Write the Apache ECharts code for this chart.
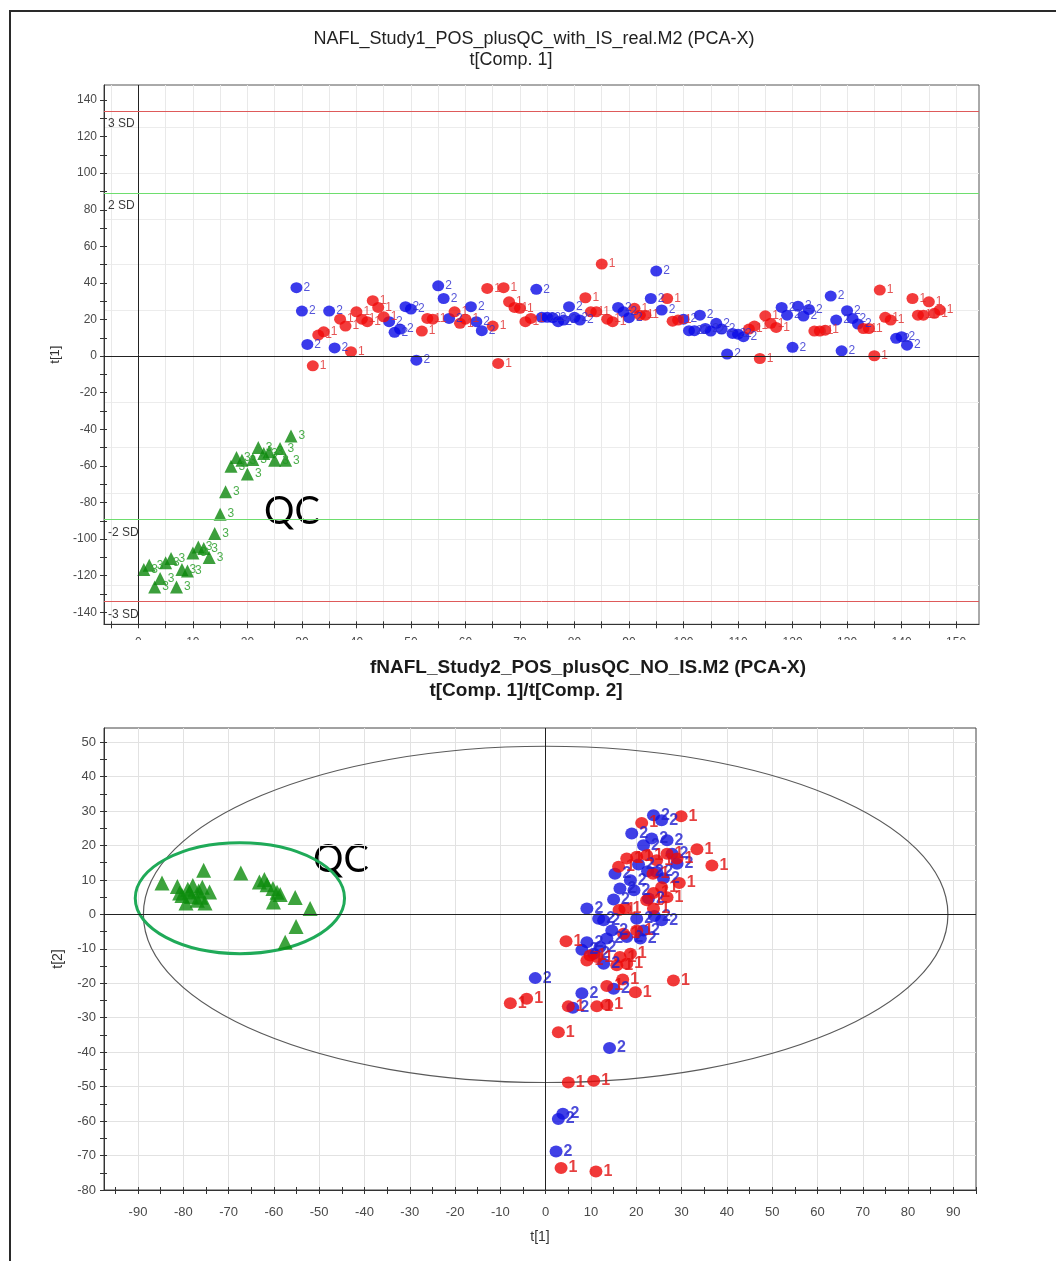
<!DOCTYPE html>
<html>
<head>
<meta charset="utf-8">
<script src="https://cdn.jsdelivr.net/npm/echarts@6/dist/echarts.min.js"></script>
<style>
html, body { margin: 0; padding: 0; background: #fff; }
#page { position: relative; width: 1056px; height: 1261px; overflow: hidden; background: #fff; }
#clip1 { position: absolute; left: 0; top: 0; width: 1056px; height: 640px; overflow: hidden; }
#c1 { width: 1056px; height: 700px; }
#c2 { position: absolute; left: 0; top: 640px; width: 1056px; height: 621px; }
#frame { position: absolute; left: 9px; top: 10px; width: 1200px; height: 1400px;
         border-left: 2px solid #2a2a2a; border-top: 2px solid #2a2a2a; pointer-events: none; }
</style>
</head>
<body>
<div id="page">
  <div id="clip1"><div id="c1"></div></div>
  <div id="c2"></div>
  <div id="frame"></div>
</div>
<script>
const FONT = '"Liberation Sans", Arial, sans-serif';

// ---- Study 1: t[1] score by observation number ----
const qcObs = [1, 2, 3, 4, 5, 6, 7, 8, 9, 10, 11, 12, 13, 14, 15, 16, 17, 18, 19, 20, 21, 22, 23, 24, 25, 26, 27, 28];
const qcScore = [-116.7, -114.3, -126.2, -121.6, -113, -110.6, -126.2, -116.7, -117.4, -107.6, -104.3, -105.2, -110.1, -97,
                 -86.4, -74.2, -60.2, -55.4, -56.9, -64.5, -56.5, -50, -53.2, -52.3, -56.9, -50.5, -56.9, -43.7];

const grp2Obs = [29, 30, 31, 35, 36, 46, 47, 48, 49, 50, 51, 55, 56, 57, 61, 62, 63, 73, 74, 75, 76, 77, 78, 79, 80, 81,
                 88, 89, 90, 94, 95, 96, 100, 101, 102, 103, 104, 105, 106, 107, 108, 109, 110, 111, 118, 119, 120, 121,
                 122, 123, 127, 128, 129, 130, 131, 132, 139, 140, 141];
const grp2Score = [37.4, 24.6, 6.4, 24.6, 4.5, 18.8, 13.0, 14.8, 27.0, 25.7, -2.2, 38.4, 31.5, 20.6, 27.0, 18.8, 13.9,
                   36.5, 21.2, 21.2, 21.0, 18.8, 19.7, 27.0, 21.2, 19.7, 26.6, 24.2, 21.0, 31.5, 46.5, 25.2, 20.2, 13.9,
                   13.9, 22.4, 15.1, 13.7, 17.9, 14.8, 1.1, 12.4, 12.0, 10.6, 26.6, 22.4, 4.8, 27.3, 21.9, 25.5, 32.8,
                   19.7, 2.9, 24.8, 20.6, 17.5, 9.7, 10.6, 6.0];

const grp1Obs = [32, 33, 34, 37, 38, 39, 40, 41, 42, 43, 44, 45, 52, 53, 54, 58, 59, 60, 64, 65, 66, 67, 68, 69, 70, 71,
                 72, 82, 83, 84, 85, 86, 87, 91, 92, 93, 97, 98, 99, 112, 113, 114, 115, 116, 117, 124, 125, 126, 133,
                 134, 135, 136, 137, 138, 142, 143, 144, 145, 146, 147];
const grp1Score = [-5.3, 11.5, 13.3, 20.2, 16.4, 2.4, 24.2, 20.2, 18.8, 30.3, 26.6, 21.5, 13.7, 20.6, 20.2, 24.2, 17.9,
                   20.2, 37.0, 16.4, -4.0, 37.4, 29.7, 26.6, 26.1, 18.8, 20.6, 31.9, 24.2, 24.2, 50.3, 20.2, 18.8, 26.1,
                   22.4, 22.4, 31.5, 19.1, 19.7, 14.8, 16.4, -1.3, 22.0, 17.9, 15.7, 13.7, 13.7, 14.2, 15.1, 15.1, 0.2,
                   36.1, 21.2, 19.7, 31.5, 22.4, 22.4, 29.7, 23.4, 25.2];

const sdLimits = [89.3, 134];   // 2 SD and 3 SD of t[1]

const obsRange = [-6.3, 154.2];
const obsTicks = [-5, 0, 5, 10, 15, 20, 25, 30, 35, 40, 45, 50, 55, 60, 65, 70, 75, 80, 85, 90, 95, 100, 105, 110,
                  115, 120, 125, 130, 135, 140, 145, 150];
const obsLabels = [0, 10, 20, 30, 40, 50, 60, 70, 80, 90, 100, 110, 120, 130, 140, 150];
const t1Range = [-146.6, 148.2];
const t1Ticks = [-140, -130, -120, -110, -100, -90, -80, -70, -60, -50, -40, -30, -20, -10, 0, 10, 20, 30, 40, 50,
                 60, 70, 80, 90, 100, 110, 120, 130, 140];
const t1Labels = [-140, -120, -100, -80, -60, -40, -20, 0, 20, 40, 60, 80, 100, 120, 140];
const t1Grid = [-125, -100, -75, -50, -25, 0, 25, 50, 75, 100, 125];

// ---- Study 2: t[1] / t[2] score plot ----
const qc2T1 = [-84.7, -81.3, -80.8, -80.3, -79.4, -79.0, -78.6, -78.2, -77.9, -76.9, -76.6, -76.1, -75.8, -75.5, -75.2,
               -74.2, -67.3, -63.2, -62.1, -61.5, -60.2, -60.1, -59.3, -58.6, -55.3, -52.0, -55.1, -57.5];
const qc2T2 = [9.1, 8.1, 6.2, 5.5, 3.3, 7.3, 6.5, 5.2, 8.4, 4.1, 6.8, 5.0, 7.9, 12.8, 3.3,
               6.5, 12.0, 9.4, 10.1, 8.6, 7.5, 3.6, 6.4, 5.8, 4.9, 1.7, -3.5, -8.1];

const grp2T1 = [23.8, 25.6, 19.0, 21.6, 23.4, 26.8, 27.9, 29.0, 24.5, 15.3, 16.4, 18.7, 15.0, 22.7, 9.1, 11.7, 12.8,
                20.1, 25.6, 21.6, 14.6, 17.9, 9.1, 8.0, 12.0, 10.6, 12.8, -2.3, 8.0, 15.0, 6.0, 14.1, 3.8, 2.8, 2.3,
                20.5, 22.5, 26.0, 19.5, 24.0, 13.5, 20.9];
const grp2T2 = [28.8, 27.3, 23.5, 20.1, 22.0, 21.5, 17.6, 14.7, 12.3, 11.8, 7.5, 9.9, 4.3, 4.6, 1.7, -1.3, -1.7,
                -1.3, -1.7, -4.7, -4.7, -6.6, -8.1, -10.3, -9.5, -11.4, -14.3, -18.5, -22.9, -21.6, -27.1, -38.8,
                -57.9, -59.4, -68.8, 14.5, 12.5, 10.5, 7.0, -0.5, -7.0, -7.0];

const grp1T1 = [29.9, 21.2, 33.4, 36.7, 29.5, 17.5, 23.8, 4.5, 28.2, 17.0, 19.8, 13.5, 16.1, 17.9, 20.1, 22.3, 24.5,
                26.8, 29.0, 23.7, 25.6, 22.3, 23.8, 26.8, 9.8, 11.3, 9.1, 16.4, 18.7, 17.9, 15.7, 20.1, 17.2, -7.8,
                -4.2, 5.0, 11.3, 13.5, 2.8, 5.0, 10.6, 3.4, 11.1, 16.2];
const grp1T2 = [28.5, 26.5, 18.9, 14.2, 9.1, 1.8, 1.7, -7.8, -19.2, -18.9, -22.6, -20.8, 13.8, 16.2, 16.7, 17.2, 15.7,
                17.6, 16.2, 11.8, 7.9, 4.1, 6.2, 5.0, -11.9, -12.4, -13.4, -12.4, -11.4, -14.3, -14.8, -4.7, -5.6,
                -25.8, -24.5, -26.7, -26.7, -26.2, -34.2, -48.8, -48.3, -73.6, -74.6, 1.3];

const hotellingEllipse = [0, 0, 88.8, 48.8];     // centre t[1], t[2], semi-axes
const qcEllipse = [-67.5, 4.7, 23.1, 16.1];

const pcT1Range = [-97.5, 95.0];
const pcT1Ticks = [-95, -90, -85, -80, -75, -70, -65, -60, -55, -50, -45, -40, -35, -30, -25, -20, -15, -10, -5, 0,
                   5, 10, 15, 20, 25, 30, 35, 40, 45, 50, 55, 60, 65, 70, 75, 80, 85, 90, 95];
const pcT1Labels = [-90, -80, -70, -60, -50, -40, -30, -20, -10, 0, 10, 20, 30, 40, 50, 60, 70, 80, 90];
const pcT2Range = [-80, 54.1];
const pcT2Ticks = [-80, -75, -70, -65, -60, -55, -50, -45, -40, -35, -30, -25, -20, -15, -10, -5, 0, 5, 10, 15, 20,
                   25, 30, 35, 40, 45, 50];
const pcT2Labels = [-80, -70, -60, -50, -40, -30, -20, -10, 0, 10, 20, 30, 40, 50];

function zip(a, b) { return a.map((v, i) => [v, b[i]]); }

// three stacked axes per dimension: labels + outer ticks, inner ticks, grid lines
function axisStack(dim, range, ticks, labels, grid, labelStyle, nameOpt, gridColor) {
  const base = { type: 'value', min: range[0], max: range[1], position: dim === 'x' ? 'bottom' : 'left' };
  const tickLine = { color: '#333', width: 1 };
  return [
    Object.assign({}, base, {
      axisLine: { show: true, onZero: false, lineStyle: { color: '#333', width: 1 } },
      axisTick: { show: true, customValues: ticks, length: 4, lineStyle: tickLine },
      axisLabel: Object.assign({ customValues: labels, fontFamily: FONT, color: '#4a4a4a' }, labelStyle),
      splitLine: { show: false }
    }, nameOpt || {}),
    Object.assign({}, base, {
      axisLine: { show: false, onZero: false },
      axisTick: { show: true, inside: true, customValues: ticks, length: 3, lineStyle: tickLine },
      axisLabel: { show: false },
      splitLine: { show: false }
    }),
    Object.assign({}, base, {
      axisLine: { show: false, onZero: false },
      axisTick: { show: false, customValues: grid },
      axisLabel: { show: false },
      splitLine: { show: true, lineStyle: { color: gridColor, width: 1 } }
    })
  ];
}

function textEl(x, y, text, size, weight, family, color) {
  return { type: 'text', x: x, y: y, silent: true,
           style: { text: text, fontSize: size, fontWeight: weight, fontFamily: family, fill: color,
                    align: 'center', verticalAlign: 'middle' } };
}

function scoreLabel(txt, color, size, weight) {
  return { show: true, position: 'right', distance: 1, formatter: txt, color: color,
           fontSize: size, fontWeight: weight, fontFamily: FONT };
}

// ---------- chart 1 ----------
const chart1 = echarts.init(document.getElementById('c1'), null, { renderer: 'canvas' });
const sdLabel = (t) => ({ show: true, formatter: t, position: 'insideStartBottom', distance: [4, 7],
                          color: '#3a3a3a', fontSize: 12, fontFamily: FONT });
chart1.setOption({
  animation: false,
  backgroundColor: '#fff',
  graphic: [
    textEl(534, 39, 'NAFL_Study1_POS_plusQC_with_IS_real.M2 (PCA-X)', 18, 'normal', FONT, '#222'),
    textEl(511, 60, 't[Comp. 1]', 18, 'normal', FONT, '#222'),
    textEl(292, 512, 'QC', 38, 'normal', 'Lato', '#000')
  ],
  grid: { left: 104, top: 85, width: 875, height: 539.3, show: true, borderColor: '#555', borderWidth: 1,
          backgroundColor: '#fff', containLabel: false },
  xAxis: axisStack('x', obsRange, obsTicks, obsLabels, obsTicks, { fontSize: 12, margin: 12 }, null, '#e9e9e9'),
  yAxis: axisStack('y', t1Range, t1Ticks, t1Labels, t1Grid, { fontSize: 12, margin: 7 },
                   { name: 't[1]', nameLocation: 'middle', nameGap: 40,
                     nameTextStyle: { fontFamily: FONT, fontSize: 13, color: '#333' } }, '#ececec'),
  series: [
    {
      type: 'scatter', name: 'QC', xAxisIndex: 0, yAxisIndex: 0, silent: true,
      symbol: 'triangle', symbolSize: 13, itemStyle: { color: '#0b870b' },
      label: scoreLabel('3', '#1f9a1f', 12, 'normal'),
      data: zip(qcObs, qcScore),
      markLine: {
        silent: true, symbol: 'none', animation: false, label: { show: false },
        data: [
          { yAxis: 0, lineStyle: { color: '#222', width: 1, type: 'solid' } },
          { xAxis: 0, lineStyle: { color: '#222', width: 1, type: 'solid' } },
          { yAxis: sdLimits[1], lineStyle: { color: '#de5a5a', width: 1, type: 'solid' }, label: sdLabel('3 SD') },
          { yAxis: sdLimits[0], lineStyle: { color: '#6ede6e', width: 1, type: 'solid' }, label: sdLabel('2 SD') },
          { yAxis: -sdLimits[0], lineStyle: { color: '#6ede6e', width: 1, type: 'solid' }, label: sdLabel('-2 SD') },
          { yAxis: -sdLimits[1], lineStyle: { color: '#de5a5a', width: 1, type: 'solid' }, label: sdLabel('-3 SD') }
        ]
      }
    },
    {
      type: 'scatter', name: '2', xAxisIndex: 0, yAxisIndex: 0, silent: true,
      symbol: 'circle', symbolSize: [12, 11], itemStyle: { color: '#0a0ae6' },
      label: scoreLabel('2', '#2a2ad0', 12, 'normal'),
      data: zip(grp2Obs, grp2Score)
    },
    {
      type: 'scatter', name: '1', xAxisIndex: 0, yAxisIndex: 0, silent: true,
      symbol: 'circle', symbolSize: [12, 11], itemStyle: { color: '#f00a0a' },
      label: scoreLabel('1', '#e02a2a', 12, 'normal'),
      data: zip(grp1Obs, grp1Score)
    }
  ]
});

// ---------- chart 2 ----------
const chart2 = echarts.init(document.getElementById('c2'), null, { renderer: 'canvas' });
function ellipseSeries(values, color, width) {
  return {
    type: 'custom', xAxisIndex: 0, yAxisIndex: 0, silent: true, clip: false, z: 1,
    encode: { x: 0, y: 1 },
    data: [values],
    renderItem: function (params, api) {
      const c = api.coord([api.value(0), api.value(1)]);
      const s = api.size([api.value(2), api.value(3)]);
      return { type: 'ellipse', shape: { cx: c[0], cy: c[1], rx: s[0], ry: s[1] },
               style: { fill: null, stroke: color, lineWidth: width } };
    }
  };
}
chart2.setOption({
  animation: false,
  backgroundColor: 'transparent',
  graphic: [
    textEl(588, 28, 'fNAFL_Study2_POS_plusQC_NO_IS.M2 (PCA-X)', 19, 'bold', FONT, '#1a1a1a'),
    textEl(526, 51, 't[Comp. 1]/t[Comp. 2]', 19, 'bold', FONT, '#1a1a1a'),
    textEl(341, 220, 'QC', 38, 'normal', 'Lato', '#000')
  ],
  grid: { left: 104, top: 88, width: 872, height: 462, show: true, borderColor: '#444', borderWidth: 1,
          backgroundColor: '#fff' },
  xAxis: axisStack('x', pcT1Range, pcT1Ticks, pcT1Labels, pcT1Labels, { fontSize: 13, margin: 16 },
                   { name: 't[1]', nameLocation: 'middle', nameGap: 40,
                     nameTextStyle: { fontFamily: FONT, fontSize: 14, color: '#333' } }, '#e2e2e2'),
  yAxis: axisStack('y', pcT2Range, pcT2Ticks, pcT2Labels, pcT2Labels, { fontSize: 13, margin: 8 },
                   { name: 't[2]', nameLocation: 'middle', nameGap: 39,
                     nameTextStyle: { fontFamily: FONT, fontSize: 14, color: '#333' } }, '#e2e2e2'),
  series: [
    ellipseSeries(hotellingEllipse, '#5a5a5a', 1.2),
    ellipseSeries(qcEllipse, '#1faa58', 3),
    {
      type: 'scatter', name: 'QC', xAxisIndex: 0, yAxisIndex: 0, silent: true, z: 3,
      symbol: 'triangle', symbolSize: 15, itemStyle: { color: '#0c8c0c' },
      data: zip(qc2T1, qc2T2),
      markLine: {
        silent: true, symbol: 'none', animation: false, label: { show: false },
        lineStyle: { color: '#222', width: 1, type: 'solid' },
        data: [{ xAxis: 0 }, { yAxis: 0 }]
      }
    },
    {
      type: 'scatter', name: '2', xAxisIndex: 0, yAxisIndex: 0, silent: true, z: 3,
      symbol: 'circle', symbolSize: [13, 12], itemStyle: { color: '#1010e0' },
      label: scoreLabel('2', '#2020d0', 16, 'bold'),
      data: zip(grp2T1, grp2T2)
    },
    {
      type: 'scatter', name: '1', xAxisIndex: 0, yAxisIndex: 0, silent: true, z: 3,
      symbol: 'circle', symbolSize: [13, 12], itemStyle: { color: '#ee0808' },
      label: scoreLabel('1', '#e01010', 16, 'bold'),
      data: zip(grp1T1, grp1T2)
    }
  ]
});
</script>
</body>
</html>
